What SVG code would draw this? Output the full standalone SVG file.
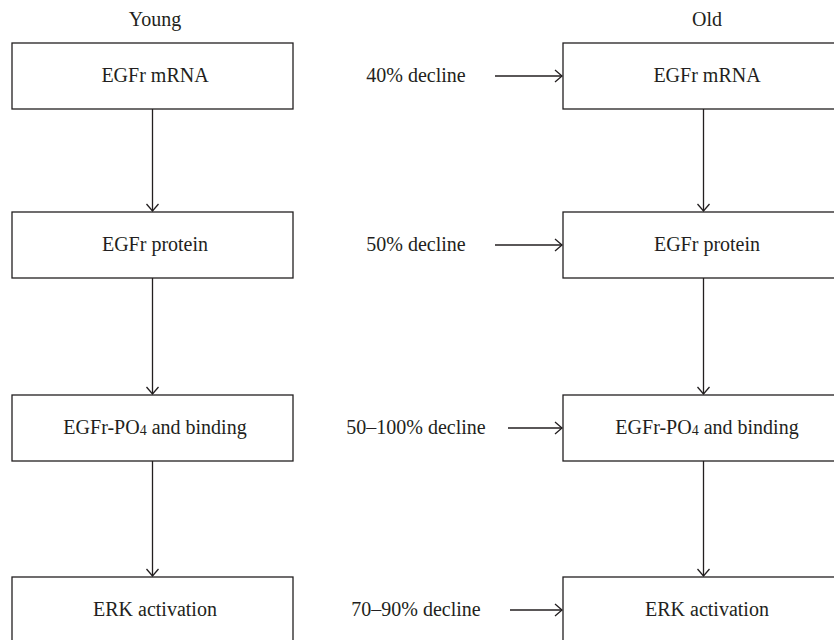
<svg xmlns="http://www.w3.org/2000/svg" width="834" height="640" viewBox="0 0 834 640">
<style>
  .box { fill: #ffffff; stroke: #231f20; stroke-width: 1.3; }
  .t { font-family: 'Liberation Serif', 'DejaVu Serif', serif; font-size: 20px; fill: #231f20; text-anchor: middle; }
  .c { fill: none; stroke: #231f20; stroke-width: 1.3; marker-end: url(#ah); }
</style>
<defs>
  <marker id="ah" markerUnits="userSpaceOnUse" viewBox="-8 -8 10 16" refX="0" refY="0" markerWidth="10" markerHeight="16" orient="auto">
    <path d="M-7,-6 L0,0 L-7,6" fill="none" stroke="#231f20" stroke-width="1.3"/>
  </marker>
</defs>
<rect width="834" height="640" fill="#ffffff"/>
<text class="t" x="155" y="26">Young</text>
<text class="t" x="707" y="26">Old</text>

<g id="young-mrna"><rect class="box" x="12" y="43" width="281" height="66"/><text class="t" x="155" y="82">EGFr mRNA</text></g>
<g id="young-protein"><rect class="box" x="12" y="212" width="281" height="66"/><text class="t" x="155" y="251">EGFr protein</text></g>
<g id="young-po4"><rect class="box" x="12" y="395" width="281" height="66"/><text class="t" x="155" y="434">EGFr-PO<tspan font-size="14" dy="1">4</tspan><tspan dy="-1"> and binding</tspan></text></g>
<g id="young-erk"><rect class="box" x="12" y="577" width="281" height="66"/><text class="t" x="155" y="616">ERK activation</text></g>

<g id="old-mrna"><rect class="box" x="563" y="43" width="281" height="66"/><text class="t" x="707" y="82">EGFr mRNA</text></g>
<g id="old-protein"><rect class="box" x="563" y="212" width="281" height="66"/><text class="t" x="707" y="251">EGFr protein</text></g>
<g id="old-po4"><rect class="box" x="563" y="395" width="281" height="66"/><text class="t" x="707" y="434">EGFr-PO<tspan font-size="14" dy="1">4</tspan><tspan dy="-1"> and binding</tspan></text></g>
<g id="old-erk"><rect class="box" x="563" y="577" width="281" height="66"/><text class="t" x="707" y="616">ERK activation</text></g>

<g id="labels">
  <text class="t" x="416" y="82">40% decline</text>
  <text class="t" x="416" y="251">50% decline</text>
  <text class="t" x="416" y="434">50–100% decline</text>
  <text class="t" x="416" y="616">70–90% decline</text>
</g>

<g id="connectors">
  <line class="c" x1="152.5" y1="109" x2="152.5" y2="211"/>
  <line class="c" x1="152.5" y1="278" x2="152.5" y2="394"/>
  <line class="c" x1="152.5" y1="461" x2="152.5" y2="576"/>
  <line class="c" x1="703.5" y1="109" x2="703.5" y2="211"/>
  <line class="c" x1="703.5" y1="278" x2="703.5" y2="394"/>
  <line class="c" x1="703.5" y1="461" x2="703.5" y2="576"/>
  <line class="c" x1="495" y1="76" x2="562" y2="76"/>
  <line class="c" x1="495" y1="245" x2="562" y2="245"/>
  <line class="c" x1="508" y1="428" x2="562" y2="428"/>
  <line class="c" x1="510" y1="610" x2="562" y2="610"/>
</g>
</svg>
